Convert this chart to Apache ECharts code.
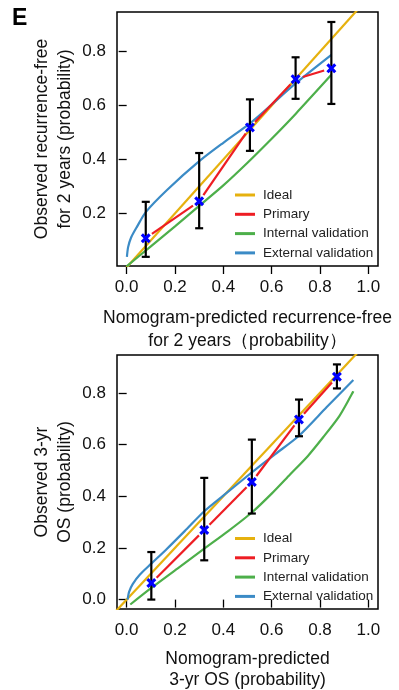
<!DOCTYPE html>
<html>
<head>
<meta charset="utf-8">
<script src="https://cdn.jsdelivr.net/npm/echarts@6/dist/echarts.min.js"></script>
<style>
  html, body { margin: 0; padding: 0; background: #fff; }
  #chart { width: 399px; height: 690px; }
</style>
</head>
<body>
<div id="chart"></div>
<script>
// tick values
const xTicks = [0, 0.2, 0.4, 0.6, 0.8, 1.0];
const yTicksTop = [0.2, 0.4, 0.6, 0.8];
const yTicksBottom = [0, 0.2, 0.4, 0.6, 0.8];

const legendNames = ['Ideal', 'Primary', 'Internal validation', 'External validation'];

// ideal line ends (y = x)
const idealX = [-0.1, 1.1];
const idealY = [-0.1, 1.1];

// top panel: recurrence-free for 2 years
const rfsX = [0.079, 0.300, 0.510, 0.699, 0.847];
const rfsY = [0.108, 0.245, 0.519, 0.698, 0.738];
const rfsLow = [0.039, 0.145, 0.432, 0.625, 0.606];
const rfsHigh = [0.243, 0.424, 0.623, 0.779, 0.910];
const rfsInternalX = [0.0, 0.1, 0.2, 0.3, 0.4, 0.5, 0.6, 0.7, 0.847];
const rfsInternalY = [0.004, 0.078, 0.152, 0.228, 0.304, 0.388, 0.477, 0.57, 0.714];
const rfsExternalX = [0.001, 0.006, 0.018, 0.043, 0.079, 0.167, 0.298, 0.4, 0.51, 0.6, 0.7, 0.847];
const rfsExternalY = [0.039, 0.075, 0.11, 0.151, 0.205, 0.287, 0.392, 0.462, 0.534, 0.604, 0.683, 0.788];

// bottom panel: 3-yr OS
const osX = [0.102, 0.321, 0.518, 0.713, 0.870];
const osY = [0.064, 0.269, 0.455, 0.697, 0.862];
const osLow = [0.0, 0.152, 0.333, 0.632, 0.817];
const osHigh = [0.184, 0.471, 0.619, 0.774, 0.910];
const osInternalX = [0.015, 0.102, 0.21, 0.321, 0.42, 0.518, 0.6, 0.676, 0.75, 0.813, 0.88, 0.938];
const osInternalY = [-0.019, 0.045, 0.12, 0.197, 0.265, 0.337, 0.41, 0.484, 0.556, 0.628, 0.71, 0.806];
const osExternalX = [0.004, 0.01, 0.025, 0.055, 0.103, 0.165, 0.24, 0.321, 0.415, 0.518, 0.615, 0.713, 0.827, 0.938];
const osExternalY = [0.0, 0.03, 0.06, 0.097, 0.14, 0.195, 0.265, 0.342, 0.414, 0.492, 0.563, 0.634, 0.744, 0.85];

const colors = {
  'Ideal': '#E6B10E',
  'Primary': '#EE1D23',
  'Internal validation': '#4DAF4A',
  'External validation': '#3B8BC6'
};
const FONT = 'Liberation Sans, Arial, sans-serif';

const zip = (xs, ys) => xs.map((v, i) => [v, ys[i]]);

const xMark = 'path://M0,2.2 L2.2,0 L5,2.8 L7.8,0 L10,2.2 L7.2,5 L10,7.8 L7.8,10 L5,7.2 L2.2,10 L0,7.8 L2.8,5 Z';

function errorBars(xs, lo, hi, idx) {
  return {
    type: 'custom', xAxisIndex: idx, yAxisIndex: idx, z: 5,
    data: xs.map((v, i) => [v, lo[i], hi[i]]),
    encode: { x: 0, y: [1, 2] },
    renderItem(params, api) {
      const a = api.coord([api.value(0), api.value(1)]);
      const b = api.coord([api.value(0), api.value(2)]);
      const w = 4;
      const st = { stroke: '#000', lineWidth: 2.2 };
      return { type: 'group', children: [
        { type: 'line', shape: { x1: a[0], y1: a[1], x2: b[0], y2: b[1] }, style: st },
        { type: 'line', shape: { x1: a[0] - w, y1: a[1], x2: a[0] + w, y2: a[1] }, style: st },
        { type: 'line', shape: { x1: b[0] - w, y1: b[1], x2: b[0] + w, y2: b[1] }, style: st }
      ]};
    }
  };
}

// primary: segments between points with small gaps around each point
function primary(xs, ys, idx) {
  const segs = [];
  for (let i = 0; i < xs.length - 1; i++) segs.push([xs[i], ys[i], xs[i + 1], ys[i + 1]]);
  return {
    name: 'Primary', type: 'custom', xAxisIndex: idx, yAxisIndex: idx, z: 4,
    itemStyle: { color: colors['Primary'] },
    data: segs,
    encode: { x: [0, 2], y: [1, 3] },
    renderItem(params, api) {
      const a = api.coord([api.value(0), api.value(1)]);
      const b = api.coord([api.value(2), api.value(3)]);
      const dx = b[0] - a[0], dy = b[1] - a[1];
      const len = Math.sqrt(dx * dx + dy * dy);
      const t = 7.5 / len;
      return {
        type: 'line',
        shape: { x1: a[0] + dx * t, y1: a[1] + dy * t, x2: b[0] - dx * t, y2: b[1] - dy * t },
        style: { stroke: colors['Primary'], lineWidth: 2.2 }
      };
    }
  };
}

function curve(name, xs, ys, idx, z) {
  return {
    name, type: 'line', xAxisIndex: idx, yAxisIndex: idx, z,
    data: zip(xs, ys), showSymbol: false, smooth: 0.25,
    lineStyle: { color: colors[name], width: 2.2 },
    itemStyle: { color: colors[name] },
    clip: true
  };
}

function points(xs, ys, idx) {
  return {
    type: 'scatter', xAxisIndex: idx, yAxisIndex: idx, z: 6,
    data: zip(xs, ys), symbol: xMark, symbolSize: 10,
    itemStyle: { color: '#0000FF', opacity: 1 }
  };
}

function xAxis(idx, name, gap, lh) {
  return {
    type: 'value', gridIndex: idx, min: -0.04, max: 1.04,
    axisLine: { show: false },
    axisTick: { show: true, customValues: xTicks, length: 8, lineStyle: { color: '#000', width: 1.3 } },
    axisLabel: { customValues: xTicks, formatter: v => v.toFixed(1), fontSize: 17, fontFamily: FONT, color: '#111', margin: 13 },
    splitLine: { show: false },
    name, nameLocation: 'middle', nameGap: gap, nameMoveOverlap: false,
    nameTextStyle: { fontSize: 17.5, fontFamily: FONT, color: '#111', lineHeight: lh }
  };
}

function yAxis(idx, min, max, ticks, name) {
  return {
    type: 'value', gridIndex: idx, min, max,
    axisLine: { show: false },
    axisTick: { show: true, customValues: ticks, length: 8, lineStyle: { color: '#000', width: 1.3 } },
    axisLabel: { customValues: ticks, formatter: v => v.toFixed(1), fontSize: 17, fontFamily: FONT, color: '#111', margin: 11 },
    splitLine: { show: false },
    name, nameLocation: 'middle', nameGap: 40, nameMoveOverlap: false,
    nameTextStyle: { fontSize: 17.5, fontFamily: FONT, color: '#111', lineHeight: 23.5 }
  };
}

function legend(top) {
  return {
    orient: 'vertical', left: 235, top, icon: 'rect', padding: 0,
    itemWidth: 20, itemHeight: 3, itemGap: 5.3, selectedMode: false,
    data: legendNames.map(n => ({ name: n, itemStyle: { color: colors[n] } })),
    textStyle: { fontSize: 13.5, fontFamily: FONT, color: '#222', lineHeight: 14, padding: [0, 0, 0, 3] }
  };
}

const gridBase = { left: 117, width: 261, height: 254, show: true, borderColor: '#000', borderWidth: 1.5, containLabel: false, outerBoundsMode: 'none' };

const chart = echarts.init(document.getElementById('chart'), null, { renderer: 'canvas' });
chart.setOption({
  animation: false,
  backgroundColor: '#fff',
  grid: [
    Object.assign({ top: 12 }, gridBase),
    Object.assign({ top: 355 }, gridBase)
  ],
  xAxis: [
    xAxis(0, 'Nomogram-predicted recurrence-free\nfor 2 years（probability）', 40, 23.5),
    xAxis(1, 'Nomogram-predicted\n3-yr OS (probability)', 39, 21.5)
  ],
  yAxis: [
    yAxis(0, 0.005, 0.947, yTicksTop, 'Observed recurrence-free\nfor 2 years (probability)'),
    yAxis(1, -0.0364, 0.9464, yTicksBottom, 'Observed 3-yr\nOS (probability)')
  ],
  legend: [legend(188), legend(531.5)],
  graphic: [{
    type: 'text', left: 12, top: 7,
    style: { text: 'E', font: 'bold 23px ' + FONT, fill: '#000' }
  }],
  series: [
    curve('Ideal', idealX, idealY, 0, 1),
    curve('Internal validation', rfsInternalX, rfsInternalY, 0, 2),
    curve('External validation', rfsExternalX, rfsExternalY, 0, 3),
    primary(rfsX, rfsY, 0),
    errorBars(rfsX, rfsLow, rfsHigh, 0),
    points(rfsX, rfsY, 0),
    curve('Ideal', idealX, idealY, 1, 1),
    curve('Internal validation', osInternalX, osInternalY, 1, 2),
    curve('External validation', osExternalX, osExternalY, 1, 3),
    primary(osX, osY, 1),
    errorBars(osX, osLow, osHigh, 1),
    points(osX, osY, 1)
  ]
});
</script>
</body>
</html>
